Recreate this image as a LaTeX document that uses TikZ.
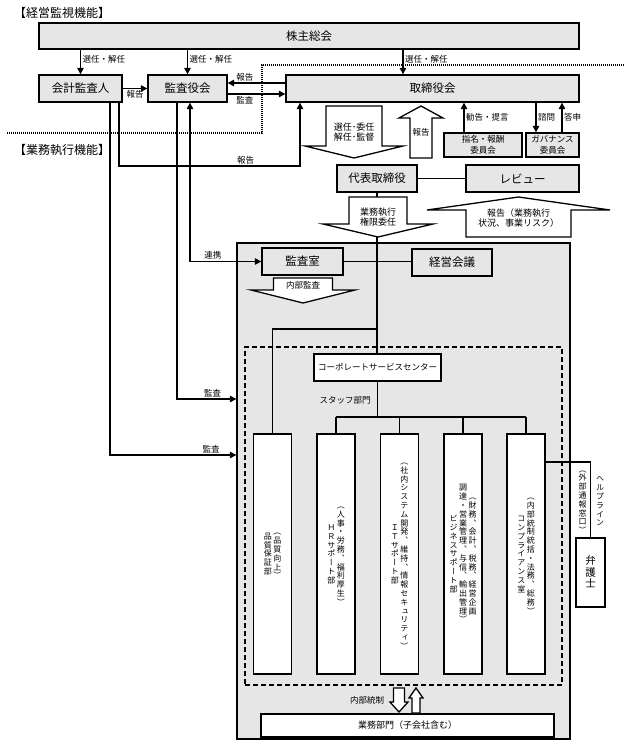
\documentclass[tikz,border=0pt]{standalone}
\usepackage{fontspec}
\setmainfont{Noto Sans CJK JP}
\newfontfamily\vfont[RawFeature=+vert]{Noto Sans CJK JP}
\usepackage{xcolor}
\usepackage{tikz}
\usetikzlibrary{arrows.meta}
\definecolor{boxgray}{HTML}{E6E6E6}

% one column of vertical (tategaki) text
\ExplSyntaxOn
\NewDocumentCommand \tate { m }
  {
    \vbox:n
      {
        \offinterlineskip \vfont
        \tl_map_inline:nn {#1}
          { \hbox_to_wd:nn { 1em } { \hss \vrule~height~.9em~depth~.2em~width~0pt \relax ##1 \hss } }
      }
  }
\ExplSyntaxOff

% hollow block arrow: centre x, shaft end, shaft half width, head half width, head base, tip
\newcommand{\blkarrow}[6]{%
  \draw[blockarr] ({#1-#3},#2) -- ({#1+#3},#2) -- ({#1+#3},#5) -- ({#1+#4},#5)
    -- (#1,#6) -- ({#1-#4},#5) -- ({#1-#3},#5) -- cycle;}

\begin{document}
\begin{tikzpicture}[x=1pt, y=-1pt,
  gbox/.style={draw, line width=1.3pt, fill=boxgray, inner sep=0pt, font=\fontsize{11.5}{14}\selectfont},
  wbox/.style={draw, line width=1.3pt, fill=white, inner sep=0pt},
  area/.style={draw, line width=1.3pt, fill=boxgray},
  tatebox/.style={wbox, minimum width=38pt, minimum height=240pt, font=\fontsize{8}{10}\selectfont},
  lbl/.style={inner sep=1.5pt, align=center, font=\fontsize{8.5}{10.5}\selectfont},
  atxt/.style={lbl, font=\fontsize{9}{10.5}\selectfont},
  title/.style={font=\fontsize{12}{14}\selectfont},
  conn/.style={line width=1.1pt, -{Triangle[length=6.5pt, width=6.5pt]}},
  twoway/.style={line width=1.1pt, {Triangle[length=6.5pt, width=6.5pt]}-{Triangle[length=6.5pt, width=6.5pt]}},
  link/.style={line width=1.1pt},
  blockarr/.style={draw, line width=1.3pt, fill=white},
  sep/.style={line width=1.3pt, dash pattern=on 1pt off 1pt}]

  \useasboundingbox (0,0) rectangle (631,747);

  \node[title] (kanshi) at (62,13) {【経営監視機能】};
  \node[title] (shikko) at (62,150) {【業務執行機能】};
  \draw[sep] (7,133) -| (262,65) -- (625,65);

  \node[area, minimum width=333pt, minimum height=496pt] (exec) at (403.5,491) {};
  \node[draw, line width=1.3pt, dash pattern=on 5pt off 3pt, minimum width=317pt, minimum height=338pt] (staff) at (403.5,516) {};

  \node[gbox, minimum width=540pt, minimum height=26pt] (kabu) at (309,36) {株主総会};
  \node[gbox, minimum width=83pt, minimum height=27pt] (kaikei) at (80.5,88.5) {会計監査人};
  \node[gbox, minimum width=79pt, minimum height=27pt] (kansa) at (187.5,88.5) {監査役会};
  \node[gbox, minimum width=293pt, minimum height=27pt] (tori) at (432.5,88.5) {取締役会};
  \node[gbox, minimum width=78pt, minimum height=24pt, align=center, font=\fontsize{8.5}{11}\selectfont] (shimei) at (483,145) {指名・報酬\\委員会};
  \node[gbox, minimum width=53pt, minimum height=24pt, align=center, font=\fontsize{8.5}{11}\selectfont] (gov) at (552.5,145) {ガバナンス\\委員会};
  \node[gbox, minimum width=80pt, minimum height=27pt] (daihyo) at (377,178.5) {代表取締役};
  \node[gbox, minimum width=113pt, minimum height=27pt] (review) at (522.5,178.5) {レビュー};
  \node[gbox, minimum width=81pt, minimum height=27pt] (kansashitsu) at (302.5,261.5) {監査室};
  \node[gbox, minimum width=80pt, minimum height=27pt] (keiei) at (452,262.5) {経営会議};
  \node[wbox, minimum width=127pt, minimum height=27pt, font=\fontsize{8.5}{10}\selectfont] (csc) at (377.5,367.5) {コーポレートサービスセンター};

  \node[tatebox] (qa) at (272.5,554) {$\vcenter{\tate{品質保証部}}\kern1.5pt\vcenter{\tate{（品質向上）}}$};
  \node[tatebox] (hr) at (336,554) {$\vcenter{\tate{ＨＲサポート部}}\kern1.5pt\vcenter{\tate{（人事・労務、福利厚生）}}$};
  \node[tatebox] (it) at (399.5,554) {$\vcenter{\tate{ＩＴサポート部}}\kern1.5pt\vcenter{\tate{（社内システム開発、維持、情報セキュリティ）}}$};
  \node[tatebox] (biz) at (463,554) {$\vcenter{\tate{ビジネスサポート部}}\kern1.5pt\vcenter{\tate{調達・営業管理、与信、輸出管理）}}\kern1.5pt\vcenter{\tate{（財務、会計、税務、経営企画}}$};
  \node[tatebox] (comp) at (526,554) {$\vcenter{\tate{コンプライアンス室}}\kern1.5pt\vcenter{\tate{（内部統制統括・法務、総務）}}$};
  \node[wbox, minimum width=29pt, minimum height=69pt, font=\fontsize{10.5}{12}\selectfont] (bengoshi) at (590.5,572.5) {$\vcenter{\tate{弁護士}}$};
  \node[inner sep=0pt, font=\fontsize{8}{10}\selectfont] (help) at (600,501) {$\vcenter{\tate{ヘルプライン}}$};
  \node[inner sep=0pt, font=\fontsize{8}{10}\selectfont] (madoguchi) at (582.5,500) {$\vcenter{\tate{（外部通報窓口）}}$};
  \node[wbox, minimum width=293pt, minimum height=23pt, font=\fontsize{9}{11}\selectfont] (gyomu) at (407.5,725.5) {業務部門（子会社含む）};

  \draw[conn] (kaikei.north |- kabu.south) -- (kaikei.north) node[lbl, right, pos=0.4] {選任・解任};
  \draw[conn] (kansa.north |- kabu.south) -- (kansa.north) node[lbl, right, pos=0.4] {選任・解任};
  \draw[conn] (kabu.south -| 403,0) -- (tori.north -| 403,0) node[lbl, right, pos=0.4] {選任・解任};
  \draw[conn] (kaikei.east) -- (kansa.west) node[lbl, below, midway] {報告};
  \draw[conn] (tori.west |- 0,83) -- (kansa.east |- 0,83) node[lbl, above, pos=0.7] {報告};
  \draw[conn] (kansa.east |- 0,94) -- (tori.west |- 0,94) node[lbl, below, pos=0.3] {監査};
  \draw[conn] (kaikei.south -| 119,0) |- (300,166) node[lbl, above, pos=0.85] {報告} -- (tori.south -| 300,0);
  \draw[conn] (kaikei.south -| 110,0) |- (exec.west |- 0,455) node[lbl, above, pos=0.9] {監査};
  \draw[conn] (kansa.south -| 177,0) |- (exec.west |- 0,399) node[lbl, above, pos=0.8] {監査};
  \draw[twoway] (kansa.south -| 190,0) |- (kansashitsu.west) node[lbl, above, pos=0.66] {連携};
  \draw[conn] (shimei.north -| 464,0) -- (tori.south -| 464,0) node[lbl, right, midway] {勧告・提言};
  \draw[conn] (tori.south -| 536,0) -- (gov.north -| 536,0) node[lbl, right, midway] {諮問};
  \draw[conn] (gov.north -| 562,0) -- (tori.south -| 562,0) node[lbl, right, midway] {答申};

  \draw[link] (daihyo.east) -- (review.west);
  \draw[link] (kansashitsu.east) -- (keiei.west |- kansashitsu.east);
  \draw[link] (daihyo.south) -- (daihyo.south |- csc.north);
  \draw[link] (daihyo.south |- 0,329) -| (qa.north);
  \coordinate (bus) at (377,417);
  \draw[link] (csc.south) -- (csc.south |- bus);
  \draw[link] (hr.north |- bus) -- (comp.north |- bus);
  \foreach \b in {hr,it,biz,comp}
    \draw[link] (\b.north |- bus) -- (\b.north);
  \draw[link] (comp.east |- 0,462) -| (bengoshi.north);

  \blkarrow{354}{106}{28}{49}{146}{158}
  \blkarrow{421}{158}{11}{22}{118}{106}
  \blkarrow{378}{197}{29}{55}{224}{237}
  \blkarrow{518.5}{237}{52.5}{91.5}{210}{197}
  \blkarrow{303}{278}{29.5}{52}{290}{303}
  \blkarrow{399}{688}{5.5}{9}{702}{712}
  \blkarrow{416}{713}{4}{7}{698}{688}

  \node[atxt] (senin) at (354,132) {選任･委任\\解任･監督};
  \node[lbl] (hokokua) at (421,132) {報告};
  \node[atxt] (inin) at (378,217) {業務執行\\権限委任};
  \node[atxt] (hokokub) at (518.5,218) {報告（業務執行\\状況、事業リスク）};
  \node[lbl] (naibu) at (303,285) {内部監査};
  \node[lbl] (tosei) at (367,700) {内部統制};
  \node[lbl] (staffbu) at (345,400) {スタッフ部門};
\end{tikzpicture}
\end{document}
